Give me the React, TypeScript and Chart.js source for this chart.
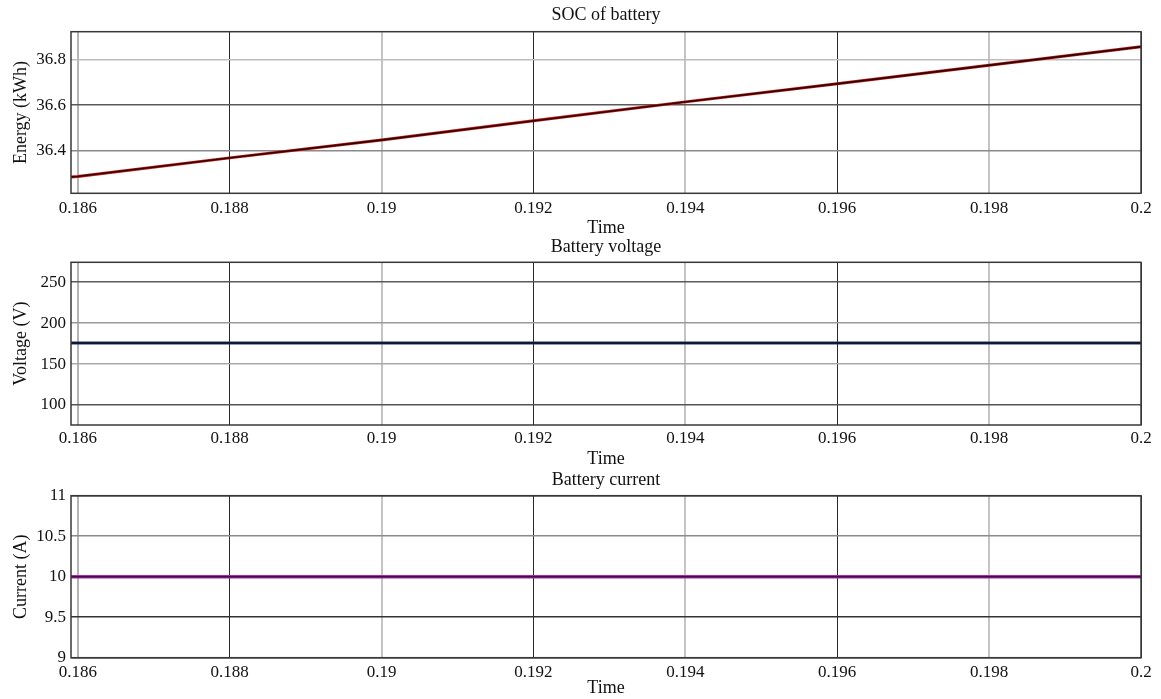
import React, { useEffect, useRef } from "react";
import { Chart, registerables } from "chart.js";

Chart.register(...registerables);

// ---------- data ----------
const timeTicks = [0.186, 0.188, 0.19, 0.192, 0.194, 0.196, 0.198, 0.2];
const timeTickLabels = ["0.186", "0.188", "0.19", "0.192", "0.194", "0.196", "0.198", "0.2"];
const timeMin = 0.18591;
const timeMax = 0.2;

const socTime = [0.1858, 0.186, 0.188, 0.19, 0.192, 0.194, 0.196, 0.198, 0.2];
const socEnergy = [36.283, 36.288, 36.369, 36.447, 36.531, 36.614, 36.693, 36.774, 36.855];
const energyTicks = [36.4, 36.6, 36.8];
const energyTickLabels = ["36.4", "36.6", "36.8"];

const voltageTime = [0.1858, 0.2];
const voltageValues = [175.8, 175.8];
const voltageTicks = [100, 150, 200, 250];
const voltageTickLabels = ["100", "150", "200", "250"];

const currentTime = [0.1858, 0.2];
const currentValues = [10, 10];
const currentTicks = [9, 9.5, 10, 10.5, 11];
const currentTickLabels = ["9", "9.5", "10", "10.5", "11"];

// ---------- styles ----------
const SERIF = "'Liberation Serif', 'Times New Roman', serif";
const TEXT = "#111111";
const xGridColors = ["#b4b4b4", "#2a2a2a", "#c4c4c4", "#2a2a2a", "#c4c4c4", "#2a2a2a", "#c4c4c4", "#333333"];
const xGridWidths = [2, 1, 2, 1, 2, 1, 2, 1];

type Layer = { color: string; width: number };

type PanelCfg = {
  top: number;
  height: number;
  title: string;
  yTitle: string;
  xs: number[];
  ys: number[];
  yMin: number;
  yMax: number;
  yTicks: number[];
  yLabels: string[];
  yGridColors: string[];
  layers: Layer[];
  titlePadTop: number;
  titlePadBottom: number;
  xAxisH: number;
  xTickPad: number;
  xTitlePadBottom: number;
};

const framePlugin = {
  id: "frame",
  afterDatasetsDraw(chart: any) {
    const { ctx, chartArea } = chart;
    const { left, top, right, bottom } = chartArea;
    ctx.save();
    ctx.strokeStyle = "#383838";
    ctx.lineWidth = 1.5;
    ctx.strokeRect(left, top, right - left, bottom - top);
    ctx.restore();
  },
};

const panels: PanelCfg[] = [
  {
    top: 0,
    height: 240,
    title: "SOC of battery",
    yTitle: "Energy (kWh)",
    xs: socTime,
    ys: socEnergy,
    yMin: 36.214,
    yMax: 36.921,
    yTicks: energyTicks,
    yLabels: energyTickLabels,
    yGridColors: ["#8a8a8a", "#5a5a5a", "#bdbdbd"],
    layers: [
      { color: "#c01010", width: 3 },
      { color: "#1a0000", width: 1.4 },
    ],
    titlePadTop: 4.2,
    titlePadBottom: 5.9,
    xAxisH: 46.7,
    xTickPad: 5.5,
    xTitlePadBottom: 1.2,
  },
  {
    top: 234,
    height: 236,
    title: "Battery voltage",
    yTitle: "Voltage (V)",
    xs: voltageTime,
    ys: voltageValues,
    yMin: 75.6,
    yMax: 274.4,
    yTicks: voltageTicks,
    yLabels: voltageTickLabels,
    yGridColors: ["#555555", "#aaaaaa", "#9a9a9a", "#5a5a5a"],
    layers: [
      { color: "#2a3560", width: 3 },
      { color: "#0a0f28", width: 1.6 },
    ],
    titlePadTop: 2.2,
    titlePadBottom: 4.5,
    xAxisH: 45,
    xTickPad: 3.8,
    xTitlePadBottom: 0.2,
  },
  {
    top: 466,
    height: 233,
    title: "Battery current",
    yTitle: "Current (A)",
    xs: currentTime,
    ys: currentValues,
    yMin: 9,
    yMax: 11,
    yTicks: currentTicks,
    yLabels: currentTickLabels,
    yGridColors: ["#383838", "#333333", "#888888", "#8a8a8a", "#383838"],
    layers: [
      { color: "#a22ca2", width: 3.5 },
      { color: "#48084a", width: 1.5 },
    ],
    titlePadTop: 3.2,
    titlePadBottom: 4.9,
    xAxisH: 41.3,
    xTickPad: 4.6,
    xTitlePadBottom: 0.2,
  },
];

function Panel({ cfg }: { cfg: PanelCfg }) {
  const ref = useRef<HTMLCanvasElement>(null);
  useEffect(() => {
    const pts = cfg.xs.map((x, i) => ({ x, y: cfg.ys[i] }));
    const n = cfg.layers.length;
    const chart = new Chart(ref.current as HTMLCanvasElement, {
      type: "line",
      data: {
        datasets: cfg.layers.map((l, i) => ({
          data: pts,
          borderColor: l.color,
          borderWidth: l.width,
          pointRadius: 0,
          fill: false,
          tension: 0,
          order: n - i,
        })),
      },
      options: {
        responsive: false,
        animation: false,
        events: [],
        layout: { padding: { left: 0, right: 20, top: 0, bottom: 0 } },
        plugins: {
          legend: { display: false },
          tooltip: { enabled: false },
          title: {
            display: true,
            fullSize: false,
            text: cfg.title,
            color: TEXT,
            font: { family: SERIF, size: 18, weight: "normal" },
            padding: { top: cfg.titlePadTop, bottom: cfg.titlePadBottom },
          },
        },
        scales: {
          x: {
            type: "linear",
            min: timeMin,
            max: timeMax,
            afterBuildTicks: (axis: any) => {
              axis.ticks = timeTicks.map((v) => ({ value: v }));
            },
            afterFit: (axis: any) => {
              axis.height = cfg.xAxisH;
            },
            ticks: {
              callback: (_v: any, i: number) => timeTickLabels[i],
              padding: cfg.xTickPad,
              color: TEXT,
              font: { family: SERIF, size: 17 },
              maxRotation: 0,
              autoSkip: false,
            },
            grid: {
              color: (ctx: any) => xGridColors[ctx.index] ?? "#999",
              lineWidth: (ctx: any) => xGridWidths[ctx.index] ?? 1,
              drawTicks: false,
            },
            border: { display: false },
            title: {
              display: true,
              text: "Time",
              color: TEXT,
              font: { family: SERIF, size: 18 },
              padding: { top: 0, bottom: cfg.xTitlePadBottom },
            },
          },
          y: {
            type: "linear",
            min: cfg.yMin,
            max: cfg.yMax,
            afterBuildTicks: (axis: any) => {
              axis.ticks = cfg.yTicks.map((v) => ({ value: v }));
            },
            afterFit: (axis: any) => {
              axis.width = 71;
            },
            ticks: {
              callback: (_v: any, i: number) => cfg.yLabels[i],
              padding: 5,
              color: TEXT,
              font: { family: SERIF, size: 17 },
              autoSkip: false,
            },
            grid: {
              color: (ctx: any) => cfg.yGridColors[ctx.index] ?? "#999",
              lineWidth: 1.6,
              drawTicks: false,
            },
            border: { display: false },
            title: {
              display: true,
              text: cfg.yTitle,
              color: TEXT,
              font: { family: SERIF, size: 18 },
              padding: { top: 10, bottom: 0 },
            },
          },
        },
      },
      plugins: [framePlugin],
    } as any);
    return () => chart.destroy();
  }, [cfg]);
  return (
    <canvas
      ref={ref}
      width={1161}
      height={cfg.height}
      style={{ position: "absolute", left: 0, top: cfg.top, width: 1161, height: cfg.height }}
    />
  );
}

export default function App() {
  return (
    <div
      style={{
        position: "absolute",
        left: 0,
        top: 0,
        width: 1161,
        height: 699,
        background: "#ffffff",
        overflow: "hidden",
      }}
    >
      {panels.map((p, i) => (
        <Panel key={i} cfg={p} />
      ))}
    </div>
  );
}
